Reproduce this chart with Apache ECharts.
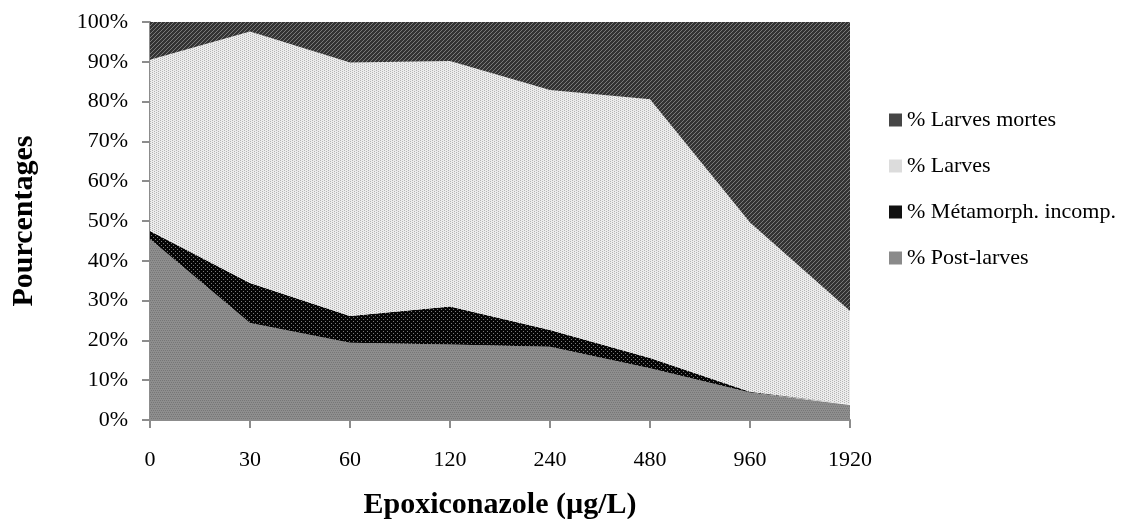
<!DOCTYPE html>
<html>
<head>
<meta charset="utf-8">
<script src="https://cdn.jsdelivr.net/npm/echarts@6/dist/echarts.min.js"></script>
<style>
html,body{margin:0;padding:0;background:#fff;}
#chart{width:1133px;height:519px;}
</style>
</head>
<body>
<div id="chart"></div>
<script>
const categories = ['0', '30', '60', '120', '240', '480', '960', '1920'];
const postLarves = [45.5, 24.4, 19.4, 19.0, 18.4, 13.0, 6.9, 3.8];
const metamorphIncomp = [2.0, 10.0, 6.7, 9.5, 4.2, 2.6, 0.2, 0.2];
const larves = [43.0, 63.2, 63.7, 61.7, 60.3, 65.0, 42.5, 23.4];
const larvesMortes = [9.5, 2.4, 10.2, 9.8, 17.1, 19.4, 50.4, 72.6];
const seriesNames = ['% Post-larves', '% Métamorph. incomp.', '% Larves', '% Larves mortes'];
const legendOrder = ['% Larves mortes', '% Larves', '% Métamorph. incomp.', '% Post-larves'];

function makePattern(bg, fg, pts, size) {
  const c = document.createElement('canvas');
  c.width = size; c.height = size;
  const ctx = c.getContext('2d');
  ctx.fillStyle = bg; ctx.fillRect(0, 0, size, size);
  ctx.fillStyle = fg;
  pts.forEach(p => ctx.fillRect(p[0], p[1], 1, 1));
  return { image: c, repeat: 'repeat' };
}
const patMortes = makePattern('#333333', '#7a7a7a', [[0,3],[1,2],[2,1],[3,0]], 4);
const patLarves = makePattern('#ececec', '#b4b4b4', [[0,0],[2,1],[0,2],[2,3]], 4);
const patMet = makePattern('#050505', '#7a7a7a', [[1,1],[3,3]], 4);
const patPost = makePattern('#8e8e8e', '#777777', [[0,0],[2,0],[1,2],[3,2]], 4);

const pats = [patPost, patMet, patLarves, patMortes];
const solids = ['#8a8a8a', '#111111', '#dcdcdc', '#464646'];
const dataSets = [postLarves, metamorphIncomp, larves, larvesMortes];

const font = 'Liberation Serif';
const chart = echarts.init(document.getElementById('chart'), null, { renderer: 'canvas' });
chart.setOption({
  animation: false,
  backgroundColor: '#ffffff',
  grid: { left: 150, right: 283, top: 22, bottom: 99, containLabel: false, outerBoundsMode: 'none' },
  legend: {
    orient: 'vertical',
    left: 884,
    top: 104,
    itemWidth: 13,
    itemHeight: 13,
    itemGap: 24,
    data: legendOrder,
    textStyle: { fontFamily: font, fontSize: 22, color: '#000' },
    icon: 'rect'
  },
  xAxis: {
    type: 'category',
    boundaryGap: false,
    data: categories,
    name: 'Epoxiconazole (µg/L)',
    nameLocation: 'middle',
    nameGap: 70,
    nameTextStyle: { fontFamily: font, fontSize: 30, fontWeight: 'bold', color: '#000' },
    axisLine: { lineStyle: { color: '#8c8c8c', width: 2 } },
    axisTick: { alignWithLabel: true, length: 8, lineStyle: { color: '#8c8c8c', width: 2 } },
    axisLabel: { fontFamily: font, fontSize: 22, color: '#000', margin: 29 }
  },
  yAxis: {
    type: 'value',
    min: 0,
    max: 100,
    interval: 10,
    name: 'Pourcentages',
    nameLocation: 'middle',
    nameGap: 111,
    nameRotate: 90,
    nameTextStyle: { fontFamily: font, fontSize: 30, fontWeight: 'bold', color: '#000' },
    splitLine: { show: false },
    axisLine: { show: true, lineStyle: { color: '#8c8c8c', width: 2 } },
    axisTick: { show: true, length: 8, lineStyle: { color: '#8c8c8c', width: 2 } },
    axisLabel: { fontFamily: font, fontSize: 22, color: '#000', margin: 22, formatter: '{value}%' }
  },
  series: seriesNames.map((name, i) => ({
    name: name,
    type: 'line',
    stack: 'total',
    data: dataSets[i],
    showSymbol: false,
    symbol: 'none',
    lineStyle: { width: 0, color: solids[i] },
    itemStyle: { color: solids[i] },
    areaStyle: { color: pats[i], opacity: 1 },
    z: 2
  }))
});
</script>
</body>
</html>
